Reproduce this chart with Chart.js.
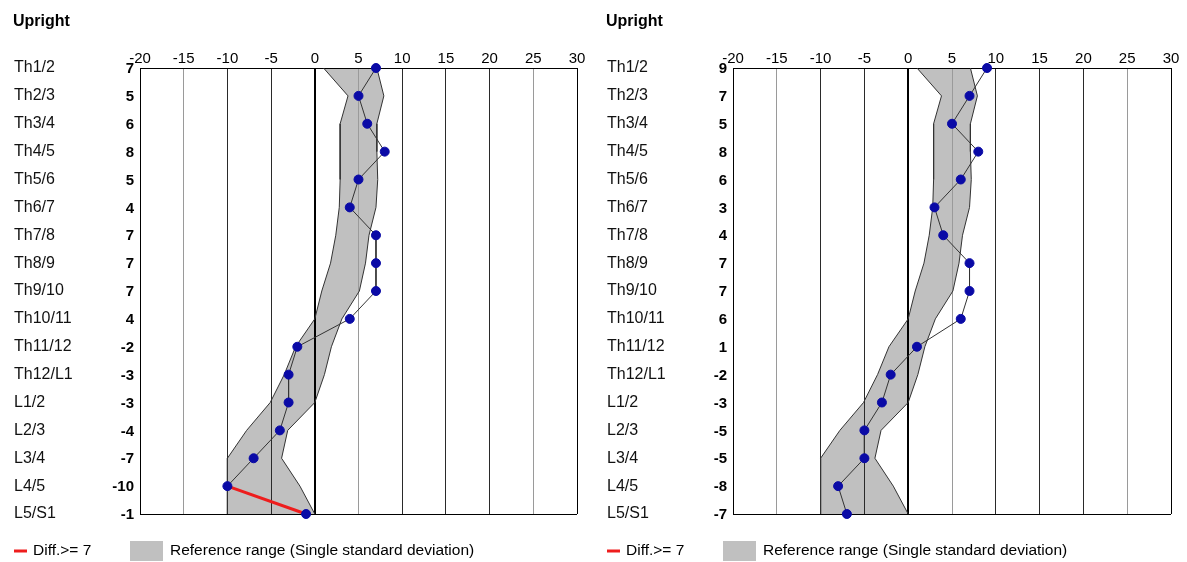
<!DOCTYPE html>
<html>
<head>
<meta charset="utf-8">
<title>Upright</title>
<script src="https://cdn.jsdelivr.net/npm/chart.js@4.4.1/dist/chart.umd.min.js"></script>
<style>
  html, body { margin: 0; padding: 0; background: #fff; }
  .wrap { display: flex; width: 1187px; height: 562px; }
  canvas { display: block; background: #fff; }
</style>
</head>
<body>
<div class="wrap">
  <canvas id="leftChart" width="593" height="562"></canvas>
  <canvas id="rightChart" width="594" height="562"></canvas>
</div>
<script>
// segments, top to bottom
const segments = ['Th1/2', 'Th2/3', 'Th3/4', 'Th4/5', 'Th5/6', 'Th6/7', 'Th7/8', 'Th8/9',
    'Th9/10', 'Th10/11', 'Th11/12', 'Th12/L1', 'L1/2', 'L2/3', 'L3/4', 'L4/5', 'L5/S1'];

// measured angles
const leftValues = [7, 5, 6, 8, 5, 4, 7, 7, 7, 4, -2, -3, -3, -4, -7, -10, -1];
const rightValues = [9, 7, 5, 8, 6, 3, 4, 7, 7, 6, 1, -2, -3, -5, -5, -8, -7];

// reference range (single standard deviation)
const refLow = [1, 3.8, 2.9, 2.9, 2.9, 2.8, 2.4, 1.8, 0.8, 0, -2.2, -3.5, -5.1, -7.8, -10, -10, -10];
const refHigh = [7.1, 7.9, 7.1, 7.1, 7.2, 7, 6.2, 5.8, 5.1, 3.1, 1.9, 1.1, 0, -3.1, -3.8, -1.7, 0];

// x axis ticks
const xMin = -20;
const xMax = 30;
const xStep = 5;

const diffLimit = 7;
const chartTitle = 'Upright';
const legendDiff = 'Diff.>= ' + diffLimit;
const legendRange = 'Reference range (Single standard deviation)';

const FONT = '"Liberation Sans", Arial, sans-serif';
const RED = '#ee1d1d';
const BAND = '#c0c0c0';
const DOT = '#0a0aa6';

// keep only the steps where neighbouring values differ by diffLimit or more
function bigSteps(values) {
    const out = values.map(() => null);
    for (let i = 1; i < values.length; i++) {
        if (Math.abs(values[i] - values[i - 1]) >= diffLimit) {
            out[i - 1] = values[i - 1];
            out[i] = values[i];
        }
    }
    return out;
}

// title, value column and legend
const sideText = {
    id: 'sideText',
    afterDraw(chart, args, opts) {
        const ctx = chart.ctx;
        const yScale = chart.scales.y;
        const area = chart.chartArea;
        ctx.save();
        ctx.fillStyle = '#000';
        ctx.textBaseline = 'middle';

        ctx.font = 'bold 16px ' + FONT;
        ctx.textAlign = 'left';
        ctx.fillText(chartTitle, 13, 22);

        ctx.font = 'bold 15px ' + FONT;
        ctx.textAlign = 'right';
        opts.values.forEach((v, i) => {
            ctx.fillText(String(v), area.left - 6, yScale.getPixelForValue(i) + 1);
        });

        // legend
        const ly = 551;
        ctx.strokeStyle = RED;
        ctx.lineWidth = 3;
        ctx.beginPath();
        ctx.moveTo(14, ly);
        ctx.lineTo(27, ly);
        ctx.stroke();

        ctx.font = '15.5px ' + FONT;
        ctx.textAlign = 'left';
        ctx.fillStyle = '#000';
        ctx.fillText(legendDiff, 33, ly);

        ctx.fillStyle = BAND;
        ctx.fillRect(130, 541, 33, 20);
        ctx.fillStyle = '#000';
        ctx.fillText(legendRange, 170, ly);
        ctx.restore();
    }
};

function gridColor(c) {
    const v = c.tick ? c.tick.value : 0;
    if (v === xMin || v === xMax || v === 0) return '#000';
    if (v === -15 || v === 5 || v === 25) return '#9a9a9a';
    return '#2a2a2a';
}

function makeChart(id, values) {
    const ctx = document.getElementById(id).getContext('2d');
    return new Chart(ctx, {
        type: 'line',
        data: {
            labels: segments,
            datasets: [
                {
                    label: 'Upright',
                    data: values,
                    borderColor: '#333',
                    borderWidth: 1,
                    // the red dataset takes over the big steps
                    segment: {
                        borderColor: s => (Math.abs(s.p1.parsed.x - s.p0.parsed.x) >= diffLimit ? 'rgba(0,0,0,0)' : '#333')
                    },
                    pointRadius: 4.5,
                    pointBackgroundColor: DOT,
                    pointBorderColor: DOT,
                    pointBorderWidth: 1,
                    fill: false,
                    order: 0
                },
                {
                    label: legendDiff,
                    data: bigSteps(values),
                    borderColor: RED,
                    borderWidth: 3,
                    pointRadius: 0,
                    spanGaps: false,
                    fill: false,
                    order: 1
                },
                {
                    label: 'low',
                    data: refLow,
                    borderColor: '#333',
                    borderWidth: 1,
                    backgroundColor: BAND,
                    pointRadius: 0,
                    fill: '+1',
                    order: 2
                },
                {
                    label: 'high',
                    data: refHigh,
                    borderColor: '#333',
                    borderWidth: 1,
                    pointRadius: 0,
                    fill: false,
                    order: 3
                }
            ]
        },
        options: {
            indexAxis: 'y',
            responsive: false,
            animation: false,
            layout: {
                padding: { top: 0, left: 14, right: 16, bottom: 48 }
            },
            scales: {
                x: {
                    type: 'linear',
                    position: 'top',
                    min: xMin,
                    max: xMax,
                    ticks: {
                        stepSize: xStep,
                        padding: 0,
                        color: '#000',
                        font: { family: FONT, size: 15 }
                    },
                    grid: {
                        drawTicks: false,
                        color: gridColor,
                        lineWidth: c => (c.tick && c.tick.value === 0 ? 2 : 1)
                    },
                    border: { display: true, color: '#000', width: 1 },
                    afterFit(scale) { scale.height = 68; }
                },
                y: {
                    type: 'category',
                    offset: false,
                    ticks: {
                        autoSkip: false,
                        crossAlign: 'far',
                        padding: 0,
                        color: '#111',
                        font: { family: FONT, size: 16 }
                    },
                    grid: {
                        drawTicks: false,
                        color: c => (c.index === 0 || c.index === segments.length - 1 ? '#000' : 'rgba(0,0,0,0)')
                    },
                    border: { display: false },
                    afterFit(scale) { scale.width = 126; }
                }
            },
            plugins: {
                legend: { display: false },
                tooltip: { enabled: false },
                filler: { drawTime: 'beforeDraw' },
                sideText: { values: values }
            }
        },
        plugins: [sideText]
    });
}

makeChart('leftChart', leftValues);
makeChart('rightChart', rightValues);
</script>
</body>
</html>
